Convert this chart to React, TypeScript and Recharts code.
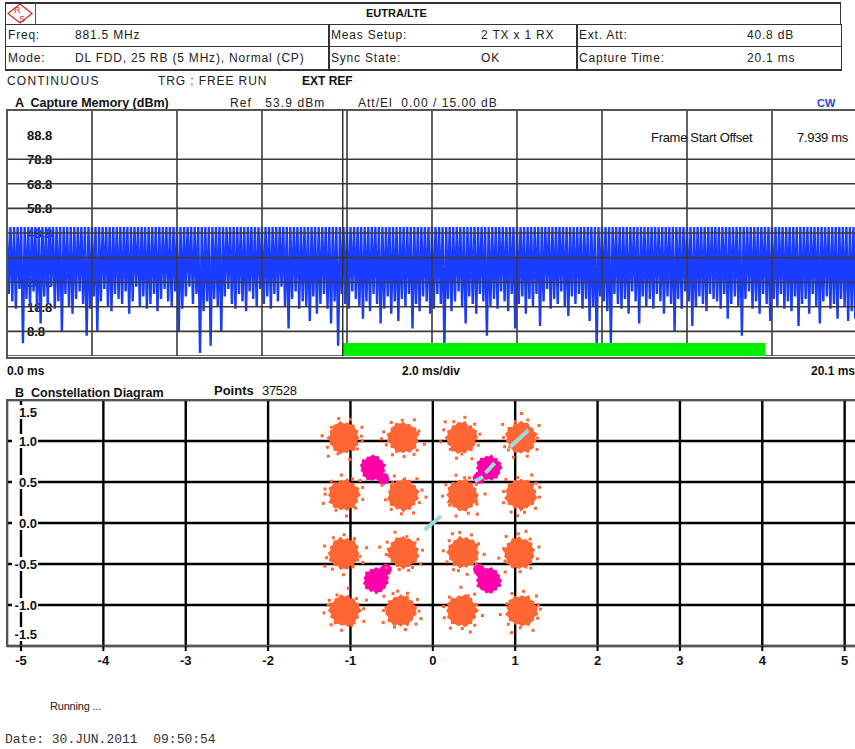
import React from 'react';
import {
  LineChart,
  Line,
  XAxis,
  YAxis,
  CartesianGrid,
  ReferenceArea,
  ReferenceLine,
  ScatterChart,
  Scatter,
} from 'recharts';

// ---- capture memory (A) ----
const captureTimeMs = 20.1;
const timeTicks = [0, 2.01, 4.02, 6.03, 8.04, 10.05, 12.06, 14.07, 16.08, 18.09, 20.1];
const levelTicks = [-1.2, 8.8, 18.8, 28.8, 38.8, 48.8, 58.8, 68.8, 78.8, 88.8, 98.8];
const levelLabels = [8.8, 18.8, 28.8, 38.8, 48.8, 58.8, 68.8, 78.8, 88.8];
const frameStartMs = 7.939;
const frameLengthMs = 10;
const traceTop = 51.2;
// lower envelope of the burst trace, dBm, read left to right
const traceLows = [
  24, 21, 18, 26, 4, 22, 19, 25, 17, 12, 23, 20, 27, 18, 21, 9, 24, 19, 16, 22,
  25, 20, 7, 18, 23, 9, 21, 26, 19, 17, 24, 22, 20, 25, 16, 21, 27, 19, 23, 18,
  20, 24, 17, 22, 26, 21, 19, 25, 9, 18, 23, 27, 20, 24, 0, 17, 21, 3, 22, 19,
  9, 23, 26, 20, 18, 24, 21, 17, 25, 22, 19, 26, 20, 23, 18, 24, 21, 27, 19, 10,
  22, 25, 18, 21, 19, 13, 23, 16, 20, 24, 18, 12, 21, 3, 24, 20, 18, 25, 22, 19,
  14, 21, 17, 24, 20, 12, 18, 23, 16, 21, 13, 22, 19, 24, 10, 20, 17, 23, 21, 16,
  18, 24, 20, 2, 22, 17, 21, 25, 19, 12, 23, 20, 16, 24, 21, 7, 19, 22, 18, 25,
  21, 17, 24, 10, 20, 23, 16, 22, 19, 24, 11, 21, 26, 18, 22, 20, 25, 19, 15, 23,
  20, 24, 18, 22, 13, 19, 2, 23, 21, 17, 4, 24, 20, 18, 22, 16, 25, 21, 12, 23,
  19, 22, 18, 24, 21, 16, 23, 20, 9, 22, 18, 25, 21, 11, 19, 23, 20, 17, 24, 22,
  21, 18, 24, 14, 20, 23, 19, 7, 22, 25, 18, 21, 16, 24, 20, 13, 22, 19, 24, 18,
  21, 17, 23, 11, 20, 22, 16, 24, 19, 12, 21, 23, 18, 20, 14, 22, 19, 13, 17, 14,
];

// ---- constellation (B) ----
const iTicks = [-5, -4, -3, -2, -1, 0, 1, 2, 3, 4, 5];
const qTicks = [-1.5, -1, -0.5, 0, 0.5, 1, 1.5];
const qam16 = [
  { i: -1.08, q: 1.04 }, { i: -0.36, q: 1.04 }, { i: 0.35, q: 1.04 }, { i: 1.07, q: 1.04 },
  { i: -1.08, q: 0.34 }, { i: -0.36, q: 0.34 }, { i: 0.36, q: 0.34 }, { i: 1.07, q: 0.35 },
  { i: -1.08, q: -0.37 }, { i: -0.36, q: -0.36 }, { i: 0.37, q: -0.36 }, { i: 1.05, q: -0.37 },
  { i: -1.07, q: -1.07 }, { i: -0.39, q: -1.07 }, { i: 0.35, q: -1.07 }, { i: 1.08, q: -1.07 },
];
const qpsk = [
  { i: -0.73, q: 0.67 }, { i: 0.68, q: 0.67 }, { i: -0.69, q: -0.7 }, { i: 0.68, q: -0.7 },
];
const qpskTails = [
  { i: -0.6, q: 0.54 }, { i: 0.56, q: 0.55 }, { i: -0.57, q: -0.57 }, { i: 0.56, q: -0.57 },
];
const streaks = [
  [{ i: -0.1, q: -0.085 }, { i: 0.1, q: 0.085 }],
  [{ i: 0.94, q: 0.93 }, { i: 1.16, q: 1.13 }],
  [{ i: 0.64, q: 0.61 }, { i: 0.75, q: 0.73 }],
  [{ i: 0.51, q: 0.51 }, { i: 0.61, q: 0.56 }],
];

const step = captureTimeMs / traceLows.length;
const traceData = traceLows.flatMap((low, k) => [
  { t: k * step, v: traceTop },
  { t: (k + 0.5) * step, v: low },
]);
traceData.push({ t: captureTimeMs, v: traceTop });

const boldFont = '"Liberation Sans Narrow", "Liberation Sans", Arial, sans-serif';

// blob outline roughness and stray-sample pattern (shape styling only)
const jag = [1, 0.9, 1.06, 0.95, 1.12, 0.88, 1.03, 0.92, 1.1, 0.97, 1.07, 0.9, 1.0, 0.93, 1.13, 0.89, 1.04, 0.91, 1.08, 0.98, 1.11, 0.9, 1.02, 0.95, 1.09, 0.92, 1.05, 0.88];
const strays = [[10, 1.2], [40, 1.05], [75, 1.3], [110, 1.1], [150, 1.15], [185, 1.25], [220, 1.05], [255, 1.2], [290, 1.1], [330, 1.35], [355, 1.05], [130, 1.4]];

function Blob(props: any) {
  const { cx, cy, r, fill, seed, strayCount } = props;
  if (cx == null || cy == null) return <g />;
  const n = jag.length;
  const pts = jag
    .map((_, k) => {
      const a = (k / n) * Math.PI * 2;
      const m = jag[(k + seed * 5) % n];
      return `${cx + Math.cos(a) * r * m},${cy + Math.sin(a) * r * m}`;
    })
    .join(' ');
  return (
    <g>
      <polygon points={pts} fill={fill} />
      {strays.slice(0, strayCount).map(([deg, d], k) => {
        const a = ((deg + seed * 47) * Math.PI) / 180;
        const dd = r * (d + ((seed + k) % 3) * 0.08);
        return <rect key={k} x={cx + Math.cos(a) * dd - 1.5} y={cy + Math.sin(a) * dd - 1.5} width={3} height={3} fill={fill} />;
      })}
    </g>
  );
}

function LevelTick(props: any) {
  const { y, payload } = props;
  if (!levelLabels.includes(payload.value)) return <g />;
  return (
    <g>
      <rect x={15} y={y - 7} width={35} height={14} fill="#fff" />
      <text x={20} y={y} dy={5} fontFamily={boldFont} fontWeight="bold" fontSize={13} fill="#111">
        {payload.value.toFixed(1)}
      </text>
    </g>
  );
}

function QTick(props: any) {
  const { y, payload } = props;
  const v = payload.value;
  const shift = v === 1.5 ? 12 : v === -1.5 ? -12 : 0;
  return (
    <g>
      <rect x={5} y={y + shift - 7} width={26} height={14} fill="#fff" />
      <text x={30} y={y + shift} dy={5} textAnchor="end" fontFamily={boldFont} fontWeight="bold" fontSize={13} fill="#111">
        {v.toFixed(1)}
      </text>
    </g>
  );
}

function ITick(props: any) {
  const { x, y, payload } = props;
  return (
    <text x={x} y={y} dy={12} textAnchor="middle" fontFamily={boldFont} fontWeight="bold" fontSize={13} fill="#111">
      {payload.value}
    </text>
  );
}

function RsLogo() {
  return (
    <svg width={28} height={21} style={{ position: 'absolute', left: 6, top: 3 }}>
      <polygon points="14,1 26,10.5 14,20 2,10.5" fill="none" stroke="#dd2222" strokeWidth={1.2} />
      <text x={8} y={10} fontSize={9} fill="#dd2222" fontFamily="Liberation Sans">R</text>
      <text x={13} y={18.5} fontSize={9} fill="#dd2222" fontFamily="Liberation Sans">S</text>
    </svg>
  );
}

const txt = (left: number, top: number, s: string, style: React.CSSProperties = {}) => (
  <div style={{ position: 'absolute', left, top, whiteSpace: 'pre', lineHeight: '14px', ...style }}>{s}</div>
);

const chartA = { width: 850, height: 246, margin: { top: 0, right: 0, bottom: 0, left: 0 } };
const layer: React.CSSProperties = { position: 'absolute', left: 7, top: 110 };

export default function App() {
  const cell: React.CSSProperties = { fontSize: 12, letterSpacing: 0.8, color: '#222' };
  return (
    <div
      style={{
        position: 'absolute',
        left: 0,
        top: 0,
        width: 855,
        height: 749,
        background: '#fff',
        overflow: 'hidden',
        fontFamily: '"Liberation Sans", Arial, sans-serif',
        color: '#111',
      }}
    >
      {/* header table */}
      <div style={{ position: 'absolute', left: 5, top: 2, width: 834, height: 21, borderTop: '2px solid #333', borderLeft: '1px solid #333', borderRight: '1px solid #333' }} />
      <div style={{ position: 'absolute', left: 35, top: 3, width: 1, height: 21, background: '#555' }} />
      <RsLogo />
      {txt(366, 6, 'EUTRA/LTE', { fontSize: 11, fontWeight: 'bold' })}
      <div style={{ position: 'absolute', left: 5, top: 24, width: 835, height: 44, border: '1px solid #333', borderBottomWidth: 2 }} />
      <div style={{ position: 'absolute', left: 5, top: 46, width: 836, height: 1, background: '#333' }} />
      <div style={{ position: 'absolute', left: 328, top: 24, width: 2, height: 45, background: '#333' }} />
      <div style={{ position: 'absolute', left: 576, top: 24, width: 2, height: 45, background: '#333' }} />
      {txt(8, 28, 'Freq:', cell)}
      {txt(75, 28, '881.5 MHz', cell)}
      {txt(331, 28, 'Meas Setup:', cell)}
      {txt(481, 28, '2 TX x 1 RX', cell)}
      {txt(579, 28, 'Ext. Att:', cell)}
      {txt(747, 28, '40.8 dB', cell)}
      {txt(8, 51, 'Mode:', cell)}
      {txt(75, 51, 'DL FDD, 25 RB (5 MHz), Normal (CP)', cell)}
      {txt(331, 51, 'Sync State:', cell)}
      {txt(481, 51, 'OK', cell)}
      {txt(579, 51, 'Capture Time:', cell)}
      {txt(747, 51, '20.1 ms', cell)}

      {txt(7, 74, 'CONTINUOUS', { fontSize: 12, letterSpacing: 1.2, color: '#222' })}
      {txt(158, 74, 'TRG : FREE RUN', { fontSize: 12, letterSpacing: 0.9, color: '#222' })}
      {txt(302, 74, 'EXT REF', { fontSize: 12, fontWeight: 'bold' })}

      {txt(15, 96, 'A  Capture Memory (dBm)', { fontSize: 12.5, fontWeight: 'bold', letterSpacing: 0 })}
      {txt(230, 96, 'Ref   53.9 dBm', { fontSize: 12, letterSpacing: 1.1, color: '#222' })}
      {txt(358, 96, 'Att/El  0.00 / 15.00 dB', { fontSize: 12, letterSpacing: 1.0, color: '#222' })}
      {txt(817, 96, 'CW', { fontSize: 11, fontWeight: 'bold', color: '#2848d0' })}

      {/* A: capture memory — level labels below the trace */}
      <div style={layer}>
        <LineChart {...chartA} data={traceData}>
          <XAxis type="number" dataKey="t" domain={[0, captureTimeMs]} ticks={timeTicks} hide />
          <YAxis type="number" domain={[-1.2, 98.8]} ticks={levelTicks} mirror axisLine={false} tickLine={false} tick={<LevelTick />} interval={0} />
          <Line type="linear" dataKey="v" stroke="none" strokeOpacity={0} dot={false} isAnimationActive={false} />
        </LineChart>
      </div>
      {/* trace */}
      <div style={layer}>
        <LineChart {...chartA} data={traceData}>
          <XAxis type="number" dataKey="t" domain={[0, captureTimeMs]} ticks={timeTicks} hide />
          <YAxis type="number" domain={[-1.2, 98.8]} ticks={levelTicks} hide />
          <Line type="linear" dataKey="v" stroke="#1a3cff" strokeWidth={2.4} dot={false} isAnimationActive={false} />
        </LineChart>
      </div>
      {/* grid, frame-start marker and frame bar above the trace */}
      <div style={layer}>
        <LineChart {...chartA} data={traceData}>
          <CartesianGrid stroke="#3a3a3a" strokeWidth={1.6} />
          <XAxis type="number" dataKey="t" domain={[0, captureTimeMs]} ticks={timeTicks} hide />
          <YAxis type="number" domain={[-1.2, 98.8]} ticks={levelTicks} hide />
          <ReferenceLine x={frameStartMs} stroke="#333" strokeWidth={1.5} />
          <ReferenceArea x1={frameStartMs} x2={frameStartMs + frameLengthMs} y1={-1.2} y2={4.1} fill="#00ee00" fillOpacity={1} stroke="none" />
          <Line type="linear" dataKey="v" stroke="none" strokeOpacity={0} dot={false} isAnimationActive={false} />
        </LineChart>
      </div>
      <div style={{ position: 'absolute', left: 6, top: 109, width: 860, height: 246, borderLeft: '2px solid #555', borderTop: '2px solid #555', borderBottom: '2px solid #555', pointerEvents: 'none' }} />
      {txt(651, 131, 'Frame Start Offset', { fontSize: 13, letterSpacing: -0.3, color: '#111' })}
      {txt(797, 131, '7.939 ms', { fontSize: 13, letterSpacing: -0.3, color: '#111' })}

      {txt(7, 364, '0.0 ms', { fontSize: 12, fontWeight: 'bold' })}
      <div style={{ position: 'absolute', left: 331, top: 364, width: 200, textAlign: 'center', fontSize: 12, fontWeight: 'bold', lineHeight: '14px' }}>2.0 ms/div</div>
      <div style={{ position: 'absolute', left: 655, top: 364, width: 200, textAlign: 'right', fontSize: 12, fontWeight: 'bold', lineHeight: '14px' }}>20.1 ms</div>

      {txt(15, 386, 'B  Constellation Diagram', { fontSize: 12.5, fontWeight: 'bold', letterSpacing: 0 })}
      {txt(214, 384, 'Points', { fontSize: 13, fontWeight: 'bold' })}
      {txt(262, 384, '37528', { fontSize: 13, letterSpacing: -0.3 })}

      {/* B: constellation */}
      <div style={{ position: 'absolute', left: 7, top: 400 }}>
        <ScatterChart width={850} height={276} margin={{ top: 0, right: 0, bottom: 0, left: 0 }}>
          <CartesianGrid stroke="#000" strokeWidth={2.4} />
          <XAxis
            type="number"
            dataKey="i"
            domain={[-5.17, 5.15]}
            ticks={iTicks}
            interval={0}
            height={30}
            tickSize={5}
            axisLine={{ stroke: '#555', strokeWidth: 2 }}
            tickLine={{ stroke: '#000', strokeWidth: 2 }}
            tick={<ITick />}
          />
          <YAxis type="number" dataKey="q" domain={[-1.5, 1.5]} ticks={qTicks} interval={0} mirror axisLine={false} tickLine={false} tick={<QTick />} />
          <Scatter data={qpskTails} fill="#ff00aa" isAnimationActive={false} shape={(p: any) => <Blob {...p} r={6} fill="#ff00aa" seed={p.index ?? 0} strayCount={0} />} />
          <Scatter data={qpsk} fill="#ff00aa" isAnimationActive={false} shape={(p: any) => <Blob {...p} r={12.5} fill="#ff00aa" seed={(p.index ?? 0) + 3} strayCount={0} />} />
          <Scatter data={qam16} fill="#ff6633" isAnimationActive={false} shape={(p: any) => <Blob {...p} r={15.5} fill="#ff6633" seed={p.index ?? 0} strayCount={12} />} />
          {streaks.map((s, k) => (
            <Scatter key={k} data={s} isAnimationActive={false} line={{ stroke: '#99dddd', strokeWidth: 4 }} shape={() => <g />} />
          ))}
        </ScatterChart>
      </div>
      <div style={{ position: 'absolute', left: 6, top: 399, width: 860, height: 246, borderLeft: '2px solid #555', borderTop: '2px solid #555', pointerEvents: 'none' }} />

      {txt(50, 699, 'Running ...', { fontSize: 11, color: '#222', letterSpacing: -0.2 })}
      {txt(5, 733, 'Date: 30.JUN.2011  09:50:54', { fontSize: 13, fontFamily: '"Liberation Mono", "DejaVu Sans Mono", monospace', color: '#333' })}
    </div>
  );
}
